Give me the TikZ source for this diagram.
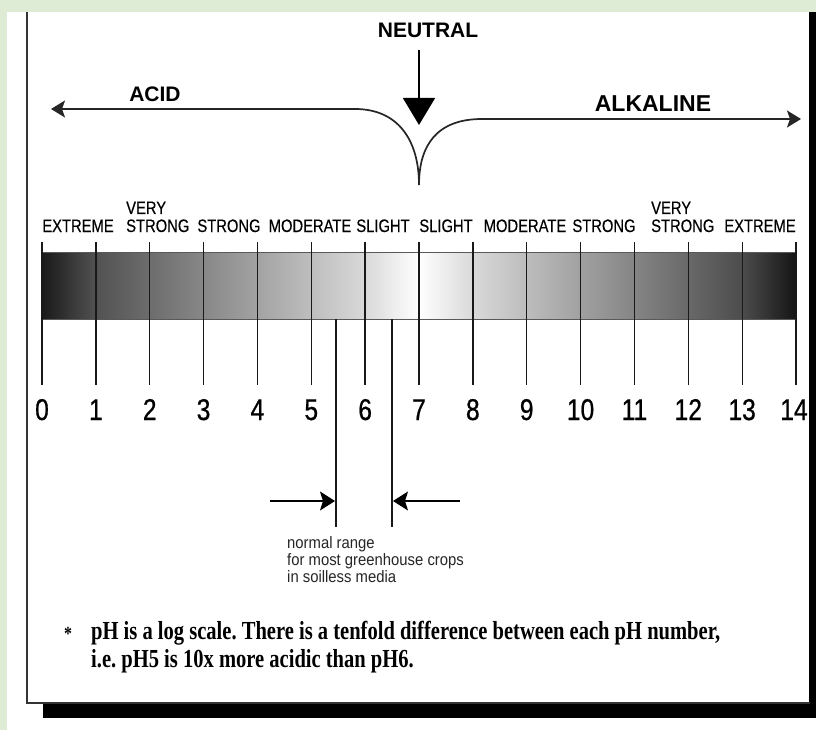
\documentclass[tikz,border=0pt]{standalone}
\usepackage{fontspec}
\setmainfont{Liberation Sans}
\newfontfamily\narrowfont[FakeStretch=0.82,FakeBold=0.3]{Liberation Sans}
\newfontfamily\numfont[FakeStretch=0.82,FakeBold=0.7]{Liberation Sans}
\newfontfamily\smallnarrow[FakeStretch=0.9]{Liberation Sans}
\newfontfamily\noteserif[FakeStretch=0.79]{Liberation Serif}
\usetikzlibrary{arrows.meta}
\definecolor{pagegreen}{RGB}{222,236,214}
\tikzset{
  lab/.style={font=\narrowfont\fontsize{18}{18}\selectfont, inner sep=0pt, anchor=base},
  labw/.style={lab, anchor=base west},
  num/.style={font=\numfont\fontsize{30}{30}\selectfont, inner sep=0pt, anchor=base},
  headtxt/.style={font=\bfseries\fontsize{21}{21}\selectfont, inner sep=0pt},
  note/.style={font=\noteserif\bfseries\frenchspacing\fontsize{26}{26}\selectfont, inner sep=0pt, anchor=base west},
  small/.style={font=\smallnarrow\fontsize{16.5}{16.5}\selectfont, inner sep=0pt, anchor=base west, text=black!85},
  curve/.style={line width=1.7pt, black!85},
  tickline/.style={line width=1.3pt, black!90},
}
\begin{document}
\begin{tikzpicture}[x=1pt,y=-1pt]
\useasboundingbox (0,0) rectangle (816,730);
% background
\fill[pagegreen] (0,0) rectangle (816,730);
\fill[white] (7,12) rectangle (816,730);
% frame and shadow
\fill[black] (43,703) rectangle (816,718);
\fill[black] (809,12) rectangle (816,718);
\draw[line width=1.5pt, black!80] (27,12) -- (27,703) -- (810,703);

% titles
\node[headtxt] (neutral) at (428,30) {NEUTRAL};
\node[headtxt] (acid) at (155,94) {ACID};
\node[headtxt, font=\bfseries\fontsize{23}{23}\selectfont] (alk) at (653,104) {ALKALINE};

% neutral arrow
\coordinate (ntop) at (419,50);
\coordinate (ntip) at (419,125);
\draw[line width=1.5pt, -{Triangle[length=27pt,width=32pt]}] (ntop) -- (ntip);

% acid / alkaline arrows
\coordinate (acidtip) at (51,109);
\coordinate (cusp) at (419,185);
\coordinate (alktip) at (801,119);
\draw[curve, {Stealth[length=14pt,width=17pt,inset=3pt]}-] (acidtip) -- (355,109) .. controls (398,109) and (419,140) .. (cusp);
\draw[curve, -{Stealth[length=14pt,width=17pt,inset=3pt]}] (cusp) .. controls (419,145) and (437,119) .. (482,119) -- (alktip);

% gradient bar
\shade[left color=black!90, right color=black!68] (42,252) rectangle (95.86,319);
\shade[left color=black!68, right color=black!15] (95.86,252) rectangle (365.1,319);
\shade[left color=black!15, right color=white] (365.1,252) rectangle (419,319);
\shade[left color=white, right color=black!15] (419,252) rectangle (472.9,319);
\shade[left color=black!15, right color=black!70] (472.9,252) rectangle (742.1,319);
\shade[left color=black!70, right color=black!92] (742.1,252) rectangle (796,319);
\draw[black!65, line width=0.8pt] (42,252) rectangle (796,319);

% category labels
\node[lab] (ext1) at (78,232) {EXTREME};
\node[labw] (vs1a) at (126,214) {VERY};
\node[labw] (vs1b) at (126,232) {STRONG};
\node[lab] (st1) at (229,232) {STRONG};
\node[lab] (mo1) at (310,232) {MODERATE};
\node[lab] (sl1) at (383,232) {SLIGHT};
\node[lab] (sl2) at (446,232) {SLIGHT};
\node[lab] (mo2) at (525,232) {MODERATE};
\node[lab] (st2) at (604,232) {STRONG};
\node[labw] (vs2a) at (651,214) {VERY};
\node[labw] (vs2b) at (651,232) {STRONG};
\node[lab] (ext2) at (760,232) {EXTREME};

% ticks and numbers
\foreach \i in {0,...,14} {
  \coordinate (t\i) at ({42+\i*53.857},242);
  \coordinate (b\i) at ({42+\i*53.857},385);
  \draw[tickline] (t\i) -- (b\i);
}
\foreach \i in {0,...,13} {
  \node[num] (n\i) at ({42+\i*53.857},420) {\i};
}
\node[num] (n14) at (794,420) {14};

% normal range
\coordinate (r1t) at (336,319);
\coordinate (r1b) at (336,527);
\coordinate (r2t) at (392,319);
\coordinate (r2b) at (392,527);
\draw[tickline] (r1t) -- (r1b);
\draw[tickline] (r2t) -- (r2b);
\coordinate (a1s) at (270,501);
\coordinate (a1e) at (335,501);
\coordinate (a2s) at (460,501);
\coordinate (a2e) at (393,501);
\draw[line width=1.3pt, -{Stealth[length=15pt,width=19pt,inset=3pt]}] (a1s) -- (a1e);
\draw[line width=1.3pt, -{Stealth[length=15pt,width=19pt,inset=3pt]}] (a2s) -- (a2e);
\node[small] (s1) at (287,548) {normal range};
\node[small] (s2) at (287,565) {for most greenhouse crops};
\node[small] (s3) at (287,582) {in soilless media};

% footnote
\node[note, font=\noteserif\bfseries\fontsize{20}{20}\selectfont] (star) at (64,640) {*};
\node[note] (f1) at (91,639) {pH is a log scale. There is a tenfold difference between each pH number,};
\node[note] (f2) at (91,667) {i.e. pH5 is 10x more acidic than pH6.};
\end{tikzpicture}
\end{document}
